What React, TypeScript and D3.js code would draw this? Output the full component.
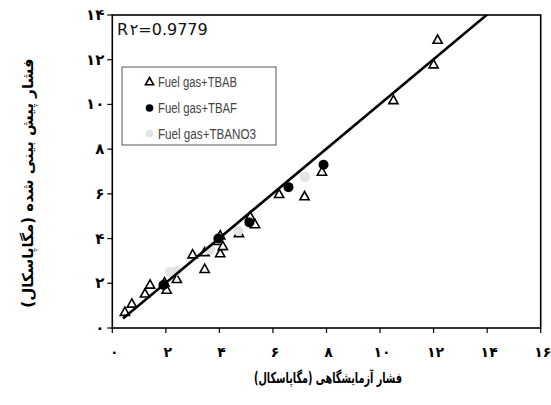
import React from "react";
import * as d3 from "d3";

const tbab: [number, number][] = [
  [0.47, 0.73], [0.73, 1.1], [1.22, 1.55], [1.41, 1.95], [1.95, 2.05],
  [2.03, 1.72], [2.41, 2.2], [3.0, 3.3], [3.45, 3.4], [3.45, 2.65],
  [3.95, 3.9], [4.03, 4.15], [4.03, 3.35], [4.13, 3.67], [4.73, 4.25],
  [5.15, 5.0], [5.33, 4.65], [6.23, 6.0], [7.18, 5.9], [7.83, 7.0],
  [10.5, 10.2], [12.0, 11.8], [12.15, 12.9],
];
const tbaf: [number, number][] = [
  [1.91, 1.92], [3.96, 4.0], [5.12, 4.72], [6.58, 6.3], [7.89, 7.3],
];
const tbano3: [number, number][] = [
  [2.16, 2.5], [2.41, 2.55], [3.65, 3.5], [4.71, 4.35], [7.2, 6.75],
];
const fitLine: [number, number][] = [[0.4, 0.42], [14, 14.02]];
const xTicks = [0, 2, 4, 6, 8, 10, 12, 14, 16];
const yTicks = [0, 2, 4, 6, 8, 10, 12, 14];
const legendLabels = ["Fuel gas+TBAB", "Fuel gas+TBAF", "Fuel gas+TBANO3"];
const r2Text = "R\u06F2=0.9779";
const xTitle = "فشار آزمایشگاهی (مگاپاسکال)";
const yTitle = "فشار پیش بینی شده (مگاپاسکال)";

const fa = (n: number) => String(n).replace(/[0-9]/g, (d) => "۰۱۲۳۴۵۶۷۸۹"[+d]);

export default function App() {
  const W = 551, H = 405;
  const L = 112.3, R = 540.7, T = 15, B = 328;
  const x = d3.scaleLinear().domain([0, 16]).range([L, R]);
  const y = d3.scaleLinear().domain([0, 14]).range([B, T]);
  const line = d3.line<[number, number]>().x((d) => x(d[0])).y((d) => y(d[1]));
  const tri = (cx: number, cy: number, s = 4.6) =>
    `M${cx},${cy - s}L${cx + s},${cy + s * 0.8}L${cx - s},${cy + s * 0.8}Z`;
  const ff = "'DejaVu Sans', sans-serif";
  return (
    <svg width={W} height={H} style={{ position: "absolute", left: 0, top: 0, background: "#fff" }}>
      <rect x={0} y={0} width={W} height={H} fill="#fff" />
      <defs>
        <clipPath id="pc">
          <rect x={L} y={T} width={R - L} height={B - T} />
        </clipPath>
      </defs>
      <rect x={L} y={T} width={R - L} height={B - T} fill="none" stroke="#000" strokeWidth={1.6} />
      {xTicks.map((t) => (
        <g key={"x" + t}>
          <line x1={x(t)} x2={x(t)} y1={B} y2={B + 5} stroke="#000" strokeWidth={1.2} />
          <text x={x(t) + 2} y={B + 29} textAnchor="middle" fontFamily={ff} fontWeight="bold" fontSize={14}>
            {fa(t)}
          </text>
        </g>
      ))}
      {yTicks.map((t) => (
        <g key={"y" + t}>
          <line x1={L - 5} x2={L} y1={y(t)} y2={y(t)} stroke="#000" strokeWidth={1.2} />
          <text x={L - 8} y={y(t) + 5} textAnchor="end" fontFamily={ff} fontWeight="bold" fontSize={15}>
            {fa(t)}
          </text>
        </g>
      ))}
      <g clipPath="url(#pc)">
        {tbab.map((d, i) => (
          <path key={"a" + i} d={tri(x(d[0]), y(d[1]))} fill="#fff" stroke="#000" strokeWidth={1.6} />
        ))}
        {tbaf.map((d, i) => (
          <circle key={"b" + i} cx={x(d[0])} cy={y(d[1])} r={5} fill="#000" />
        ))}
        {tbano3.map((d, i) => (
          <circle key={"c" + i} cx={x(d[0])} cy={y(d[1])} r={5} fill="#e3e3e3" />
        ))}
        <path d={line(fitLine) || ""} fill="none" stroke="#000" strokeWidth={2.6} />
      </g>
      <text x={117} y={35} fontFamily={ff} fontSize={16} letterSpacing={1.6} fill="#111">
        {r2Text}
      </text>
      <rect x={122} y={67} width={154} height={78} fill="#fff" stroke="#555" strokeWidth={1} />
      <path d={tri(149.5, 81.5, 4)} fill="#fff" stroke="#000" strokeWidth={1.6} />
      <circle cx={149.5} cy={108} r={3.8} fill="#000" />
      <circle cx={149.5} cy={133.5} r={3.8} fill="#e3e3e3" />
      {legendLabels.map((l, i) => (
        <text key={l} x={158} y={[86.5, 113, 138.5][i]} fontFamily="'Liberation Sans', Arial, sans-serif"
          fontSize={14} fill="#444" textLength={[79, 79, 98][i]} lengthAdjust="spacingAndGlyphs">
          {l}
        </text>
      ))}
      <text x={328} y={383} textAnchor="middle" fontFamily={ff} fontWeight="bold" fontSize={15}
        direction="rtl" textLength={148} lengthAdjust="spacingAndGlyphs">
        {xTitle}
      </text>
      <text transform={`translate(33,183) rotate(-90)`} textAnchor="middle" fontFamily={ff}
        fontWeight="bold" fontSize={15} direction="rtl">
        {yTitle}
      </text>
    </svg>
  );
}
